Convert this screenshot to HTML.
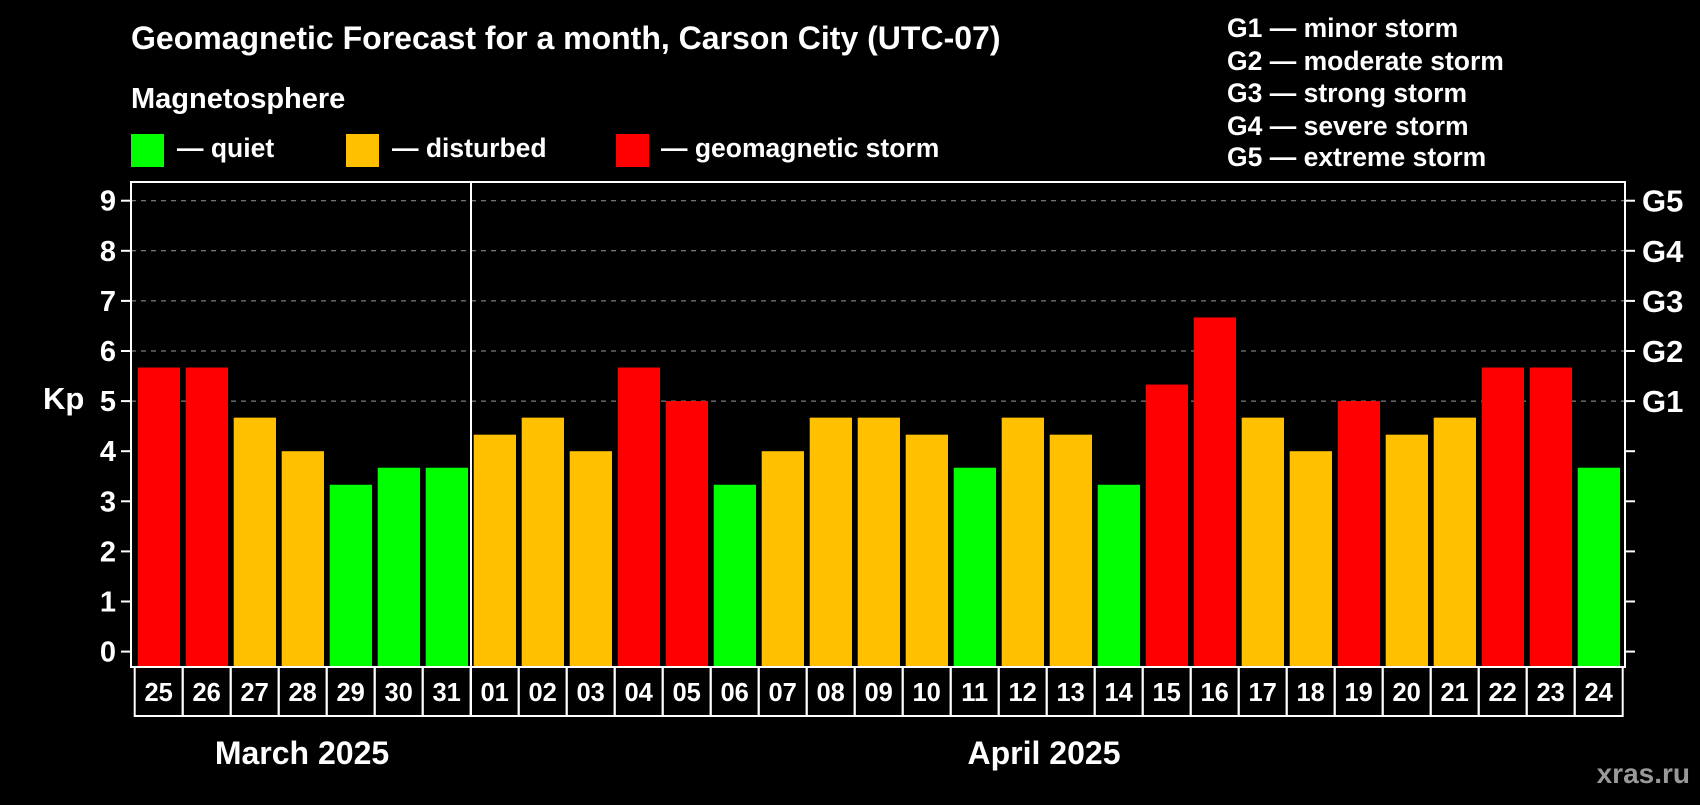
<!DOCTYPE html>
<html><head><meta charset="utf-8"><style>
body{margin:0;background:#000;width:1700px;height:800px;overflow:hidden}
svg text{font-family:"Liberation Sans",Arial,sans-serif;font-weight:bold;fill:#fff}
</style></head><body>
<svg id="c" width="1700" height="800">
<text x="131" y="49" font-size="32">Geomagnetic Forecast for a month, Carson City (UTC-07)</text>
<text x="131" y="108" font-size="29">Magnetosphere</text>
<rect x="131" y="134" width="33" height="33" fill="#00ff00"/>
<text x="177" y="157" font-size="26.5">— quiet</text>
<rect x="346" y="134" width="33" height="33" fill="#ffc000"/>
<text x="392" y="157" font-size="26.5">— disturbed</text>
<rect x="616" y="134" width="33" height="33" fill="#ff0000"/>
<text x="661" y="157" font-size="26.5">— geomagnetic storm</text>
<g font-size="26.5">
<text x="1227" y="37">G1 — minor storm</text>
<text x="1227" y="70">G2 — moderate storm</text>
<text x="1227" y="102">G3 — strong storm</text>
<text x="1227" y="135">G4 — severe storm</text>
<text x="1227" y="166">G5 — extreme storm</text>
</g>
<text x="43" y="409" font-size="31">Kp</text>
<text x="302" y="764" font-size="32" text-anchor="middle">March 2025</text>
<text x="1044" y="764" font-size="32" text-anchor="middle">April 2025</text>
<text x="1690" y="783" font-size="28" text-anchor="end" style="fill:#999">xras.ru</text>
<g id="plot"></g>
</svg>
<script>
const days=["25","26","27","28","29","30","31","01","02","03","04","05","06","07","08","09","10","11","12","13","14","15","16","17","18","19","20","21","22","23","24"];
const kp=[5.67,5.67,4.67,4,3.33,3.67,3.67,4.33,4.67,4,5.67,5,3.33,4,4.67,4.67,4.33,3.67,4.67,4.33,3.33,5.33,6.67,4.67,4,5,4.33,4.67,5.67,5.67,3.67];
const yTicks=[0,1,2,3,4,5,6,7,8,9];
const gLabels=["","","","","","G1","G2","G3","G4","G5"];
const NS="http://www.w3.org/2000/svg";
const g=document.getElementById('plot');
const L=131,R=1625,T=182,B=667,x0=137.7,step=48,bw=42.3;
const y=v=>651.6-v*50.1;
const x=i=>x0+i*step;
function mk(t,a){const e=document.createElementNS(NS,t);for(const k in a)e.setAttribute(k,a[k]);g.appendChild(e);return e;}
yTicks.forEach((v,i)=>{
 if(v>=5){const l=mk('line',{x1:L,x2:R,y1:y(v),y2:y(v),stroke:'#999','stroke-dasharray':'5,5','stroke-width':1});
 
 }
 mk('line',{x1:L-10,x2:L,y1:y(v),y2:y(v),stroke:'#fff','stroke-width':2});
 mk('line',{x1:R,x2:R+10,y1:y(v),y2:y(v),stroke:'#fff','stroke-width':2});
 const t=mk('text',{x:116,y:y(v)+10,'font-size':29,'text-anchor':'end'});t.textContent=v;
 
 
 if(gLabels[i]){const t2=mk('text',{x:1642,y:y(v)+11,'font-size':31});t2.textContent=gLabels[i];
 
 }
});
kp.forEach((v,i)=>{
 const c=v>=5?'#ff0000':(v>=4?'#ffc000':'#00ff00');
 const r=mk('rect',{x:x(i),y:y(v),width:bw,height:B-y(v),fill:c});
 
 
 const cell=mk('rect',{x:134.7+i*step,y:B,width:step,height:49,fill:'none',stroke:'#fff','stroke-width':2});
 
 
 const t=mk('text',{x:134.7+i*step+step/2,y:701,'font-size':25.5,'text-anchor':'middle'});t.textContent=days[i];
 
 
});
const fr=mk('rect',{x:L,y:T,width:R-L,height:B-T,fill:'none',stroke:'#fff','stroke-width':2});


const sep=mk('line',{x1:471,x2:471,y1:T,y2:716,stroke:'#fff','stroke-width':2});


</script>
</body></html>
